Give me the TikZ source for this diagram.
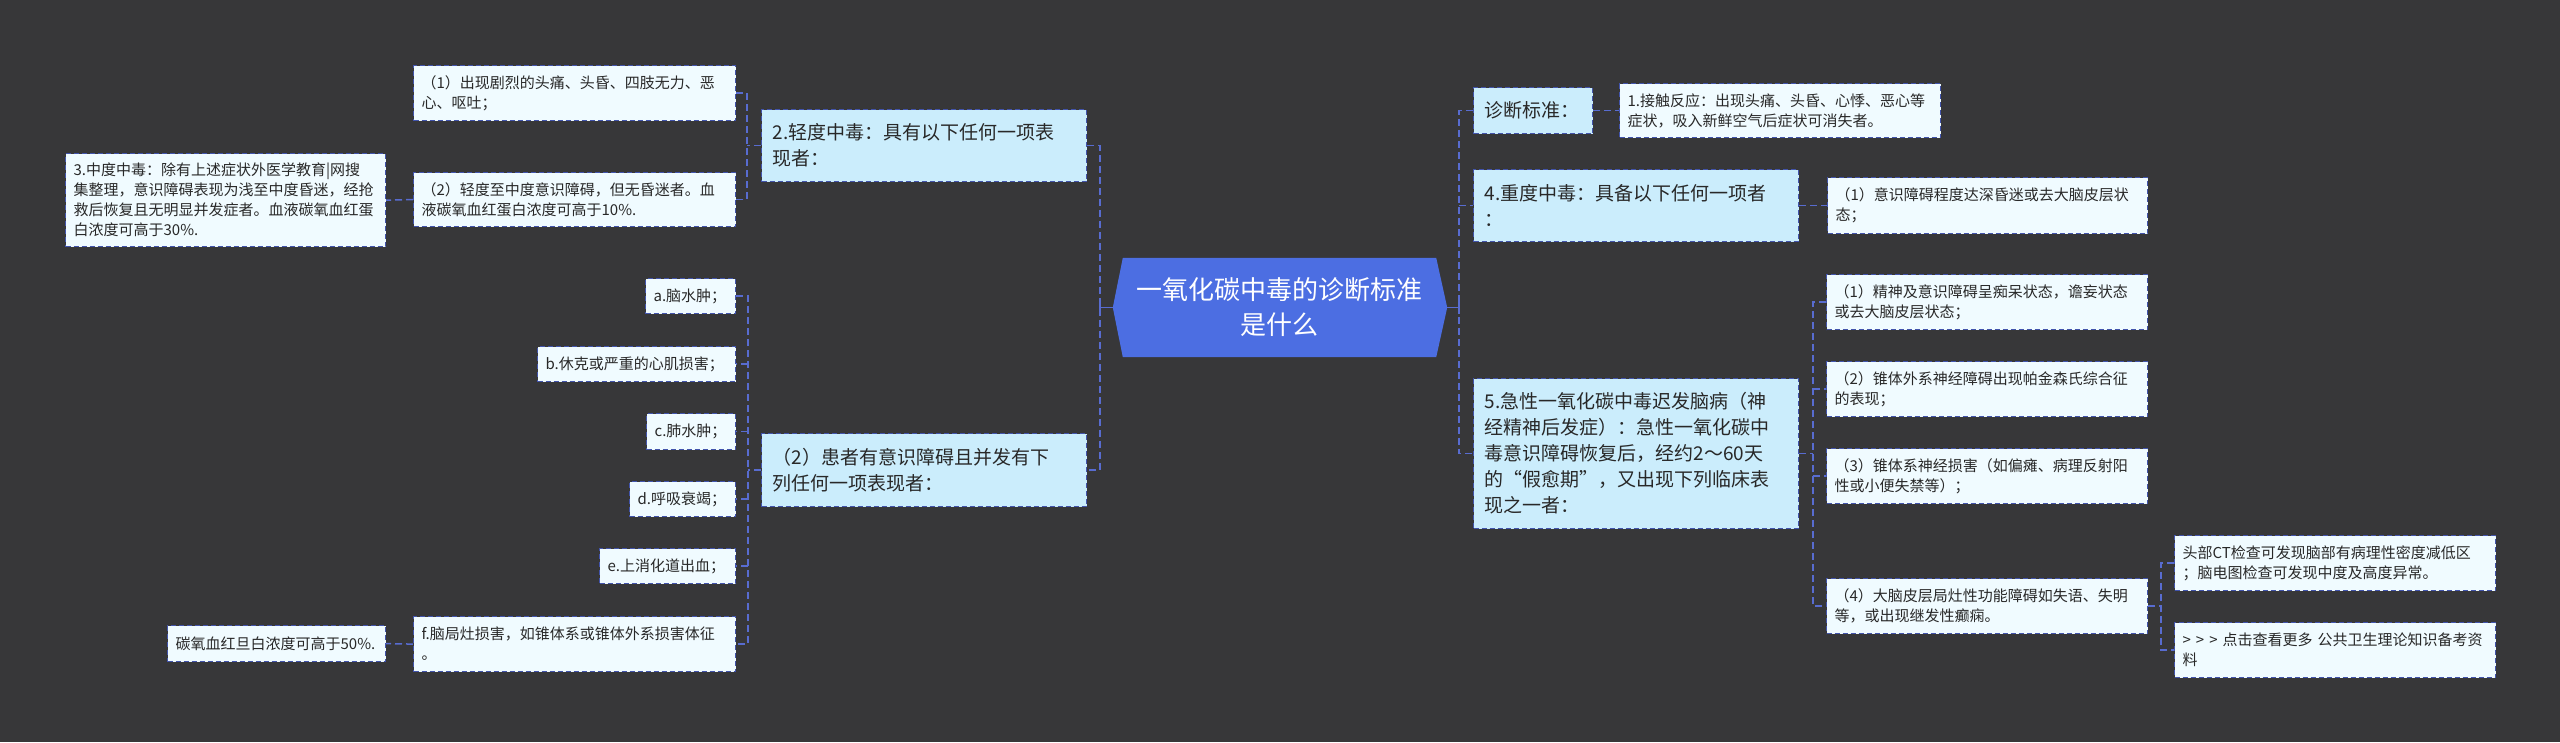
\documentclass[tikz,border=0pt]{standalone}
\usepackage{fontspec}
\setmainfont{Noto Sans CJK SC}
\usetikzlibrary{calc}
\definecolor{bgcol}{RGB}{55,55,57}
\definecolor{rootcol}{RGB}{76,110,226}
\definecolor{branchfill}{RGB}{203,237,252}
\definecolor{leaffill}{RGB}{240,251,255}
\definecolor{boxline}{RGB}{66,84,172}
\definecolor{conncol}{RGB}{88,108,208}
\definecolor{txtdark}{RGB}{40,40,40}
\newcommand\myleaffont{\fontsize{15pt}{20pt}\selectfont}
\newcommand\mybranchfont{\fontsize{19pt}{26pt}\selectfont}
\newcommand\myrootfont{\fontsize{26pt}{35pt}\selectfont}
\tikzset{
  boxbase/.style={draw=boxline, line width=1.2pt, dash pattern=on 5pt off 3pt,
    text=txtdark, align=left, anchor=north west, inner ysep=3pt},
  leaf/.style={boxbase, fill=leaffill, font=\myleaffont, inner xsep=8pt},
  branch/.style={boxbase, fill=branchfill, font=\mybranchfont, inner xsep=11pt},
  conn/.style={draw=conncol, line width=1.5pt, dash pattern=on 7pt off 4pt},
  stub/.style={draw=conncol, line width=1.5pt},
  rootbox/.style={minimum width=313pt, minimum height=99pt, inner sep=0pt},
  roottext/.style={text=white, font=\myrootfont, align=center, inner sep=0pt}
}
\begin{document}
\begin{tikzpicture}[x=1pt,y=-1pt]
\useasboundingbox (0,0) rectangle (2560,742);
\fill[bgcol] (0,0) rectangle (2560,742);

% root
\node[rootbox] (rootbox) at (1279.5,307.5) {};
\fill[rootcol] (rootbox.north west) -- (rootbox.north east) -- ([xshift=11pt]rootbox.east)
  -- (rootbox.south east) -- (rootbox.south west) -- ([xshift=-10pt]rootbox.west) -- cycle;
\node[roottext] (root) at (rootbox) {一氧化碳中毒的诊断标准\\是什么};
\coordinate (rootW) at ([xshift=-10pt]rootbox.west);
\coordinate (rootE) at ([xshift=11pt]rootbox.east);

% left side
\node[branch, text width=303pt, minimum height=72pt] (L2) at (761,109) {2.轻度中毒：具有以下任何一项表\\现者：};
\node[leaf, text width=306pt, minimum height=55pt] (L2a) at (413,65) {（1）出现剧烈的头痛、头昏、四肢无力、恶\\心、呕吐；};
\node[leaf, text width=306pt, minimum height=54pt] (L2b) at (413,172) {（2）轻度至中度意识障碍，但无昏迷者。血\\液碳氧血红蛋白浓度可高于10\%.};
\node[leaf, text width=304pt, minimum height=93pt] (L3) at (65,153) {3.中度中毒：除有上述症状外医学教育|网搜\\集整理，意识障碍表现为浅至中度昏迷，经抢\\救后恢复且无明显并发症者。血液碳氧血红蛋\\白浓度可高于30\%.};
\node[branch, text width=303pt, minimum height=73pt] (L4) at (761,433) {（2）患者有意识障碍且并发有下\\列任何一项表现者：};
\node[leaf, text width=74pt, minimum height=35pt] (La) at (645,278) {a.脑水肿；};
\node[leaf, text width=182pt, minimum height=35pt] (Lb) at (537,346) {b.休克或严重的心肌损害；};
\node[leaf, text width=73pt, minimum height=36pt] (Lc) at (646,413) {c.肺水肿；};
\node[leaf, text width=90pt, minimum height=35pt] (Ld) at (629,481) {d.呼吸衰竭；};
\node[leaf, text width=120pt, minimum height=35pt] (Le) at (599,548) {e.上消化道出血；};
\node[leaf, text width=306pt, minimum height=55pt] (Lf) at (413,616) {f.脑局灶损害，如锥体系或锥体外系损害体征\\。};
\node[leaf, text width=202pt, minimum height=36pt] (Lg) at (167,625) {碳氧血红旦白浓度可高于50\%.};

% right side
\node[branch, text width=97pt, minimum height=46pt] (R1) at (1473,87) {诊断标准：};
\node[leaf, text width=305pt, minimum height=54pt] (R1a) at (1619,83) {1.接触反应：出现头痛、头昏、心悸、恶心等\\症状，吸入新鲜空气后症状可消失者。};
\node[branch, text width=303pt, minimum height=72pt] (R2) at (1473,169) {4.重度中毒：具备以下任何一项者\\：};
\node[leaf, text width=304pt, minimum height=56pt] (R2a) at (1827,177) {（1）意识障碍程度达深昏迷或去大脑皮层状\\态；};
\node[branch, text width=303pt, minimum height=150pt] (R3) at (1473,378) {5.急性一氧化碳中毒迟发脑病（神\\经精神后发症）：急性一氧化碳中\\毒意识障碍恢复后，经约2～60天\\的“假愈期”，又出现下列临床表\\现之一者：};
\node[leaf, text width=305pt, minimum height=55pt] (R3a) at (1826,274) {（1）精神及意识障碍呈痴呆状态，谵妄状态\\或去大脑皮层状态；};
\node[leaf, text width=305pt, minimum height=55pt] (R3b) at (1826,361) {（2）锥体外系神经障碍出现帕金森氏综合征\\的表现；};
\node[leaf, text width=305pt, minimum height=55pt] (R3c) at (1826,448) {（3）锥体系神经损害（如偏瘫、病理反射阳\\性或小便失禁等）；};
\node[leaf, text width=305pt, minimum height=55pt] (R3d) at (1826,578) {（4）大脑皮层局灶性功能障碍如失语、失明\\等，或出现继发性癫痫。};
\node[leaf, text width=305pt, minimum height=55pt] (R4a) at (2174,535) {头部CT检查可发现脑部有病理性密度减低区\\；脑电图检查可发现中度及高度异常。};
\node[leaf, text width=305pt, minimum height=55pt] (R4b) at (2174,622) {> > > 点击查看更多 公共卫生理论知识备考资\\料};

% connectors: root left
\coordinate (spL) at ([xshift=-13pt]rootW);
\draw[stub] (rootW) -- (spL);
\draw[stub] ([yshift=-6pt]spL) -- ([yshift=6pt]spL);
\draw[conn] (L2.east) -| (spL) |- (L4.east);
% L2 children
\coordinate (sp2) at ([xshift=-14pt]L2.west);
\draw[conn] (L2.west) -- (sp2);
\draw[conn] (L2a.east) -| (sp2) |- (L2b.east);
\draw[conn] (L2b.west) -- (L3.east);
% L4 children
\coordinate (sp4) at ([xshift=-13pt]L4.west);
\draw[conn] (L4.west) -- (sp4);
\draw[conn] (La.east) -| (sp4) |- (Lf.east);
\draw[conn] (sp4 |- Lb.east) -- (Lb.east);
\draw[conn] (sp4 |- Lc.east) -- (Lc.east);
\draw[conn] (sp4 |- Ld.east) -- (Ld.east);
\draw[conn] (sp4 |- Le.east) -- (Le.east);
\draw[conn] (Lf.west) -- (Lg.east);

% root right
\coordinate (spR) at ([xshift=12pt]rootE);
\draw[stub] (rootE) -- (spR);
\draw[stub] ([yshift=-6pt]spR) -- ([yshift=6pt]spR);
\draw[conn] (R1.west) -| (spR) |- (R3.west);
\draw[conn] (spR |- R2.west) -- (R2.west);
\draw[conn] (R1.east) -- (R1a.west);
\draw[conn] (R2.east) -- (R2a.west);
% R3 children
\coordinate (sp3) at ([xshift=14pt]R3.east);
\draw[conn] (R3.east) -- (sp3);
\draw[conn] (R3a.west) -| (sp3) |- (R3d.west);
\draw[conn] (sp3 |- R3b.west) -- (R3b.west);
\draw[conn] (sp3 |- R3c.west) -- (R3c.west);
% R3d children
\coordinate (sp5) at ([xshift=13pt]R3d.east);
\draw[conn] (R3d.east) -- (sp5);
\draw[conn] (R4a.west) -| (sp5) |- (R4b.west);
\end{tikzpicture}
\end{document}
